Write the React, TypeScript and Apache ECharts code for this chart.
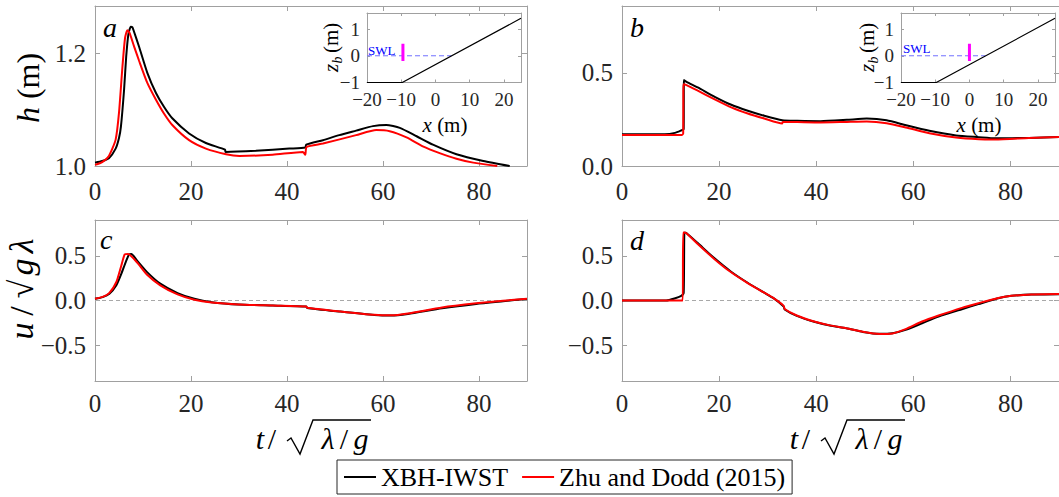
import React, { useEffect, useRef } from "react";
import * as echarts from "echarts";

const SERIF = "Liberation Serif";
const AXIS_GRAY = "#a0a0a0";
const TEXT_DARK = "#262626";

const SERIES_NAMES = ["XBH-IWST", "Zhu and Dodd (2015)"];
const SERIES_COLORS = ["#000000", "#ff0000"];

// tick positions
const tickT = [0, 20, 40, 60, 80];
const tickH = [1.0, 1.2];
const tickHb = [0, 0.5];
const tickU = [-0.5, 0, 0.5];
const tickInsetX = [-20, -10, 0, 10, 20];
const tickInsetZ = [-1, 0, 1];

// (a) depth h (m), offshore gauge
const aXbhT = [0, 1.5, 2.9, 4.3, 5.0, 5.4, 6.05, 6.5, 6.96, 7.45, 7.8, 8.1, 9.2, 10.9, 12.7, 14.4, 16.1, 19.6, 23.1, 27.1, 27.2, 33.5, 40.5, 43.8, 44.0, 47.5, 50.9, 54.4, 57.9, 60.7, 63.5, 67, 70.4, 75.3, 80.9, 86.4];
const aXbhH = [1.006, 1.009, 1.014, 1.031, 1.05, 1.07, 1.135, 1.195, 1.235, 1.248, 1.247, 1.24, 1.212, 1.166, 1.13, 1.105, 1.085, 1.058, 1.041, 1.029, 1.025, 1.027, 1.031, 1.033, 1.038, 1.046, 1.055, 1.063, 1.071, 1.073, 1.068, 1.053, 1.038, 1.021, 1.009, 1.0];
const aZdT = [0, 1.5, 2.9, 4.3, 5.0, 5.7, 6.26, 6.75, 7.2, 8.1, 9.2, 10.9, 12.7, 14.4, 16.1, 19.6, 23.1, 27.3, 30.1, 37, 43.3, 43.8, 44.1, 47.5, 54.4, 58.6, 61.4, 64.9, 68.3, 71.8, 75.3, 78.8, 83.8];
const aZdH = [1.002, 1.007, 1.018, 1.047, 1.095, 1.175, 1.228, 1.242, 1.237, 1.214, 1.187, 1.148, 1.118, 1.093, 1.073, 1.046, 1.031, 1.021, 1.018, 1.02, 1.025, 1.02, 1.034, 1.04, 1.055, 1.064, 1.062, 1.051, 1.035, 1.023, 1.013, 1.006, 1.0];

// (b) depth h (m), gauge on the slope
const bXbhT = [0, 8.8, 10.9, 12.25, 12.7, 12.75, 13.3, 15.6, 19.1, 22.5, 25.9, 29.3, 33.0, 36.1, 40.9, 46.3, 50.4, 54.5, 58.5, 63.3, 68.8, 73.5, 76.9, 83.8, 90];
const bXbhH = [0.171, 0.171, 0.178, 0.192, 0.198, 0.462, 0.452, 0.422, 0.372, 0.329, 0.297, 0.27, 0.246, 0.243, 0.241, 0.248, 0.255, 0.246, 0.219, 0.189, 0.164, 0.155, 0.149, 0.151, 0.156];
const bZdT = [0, 12.3, 12.6, 12.65, 13.3, 15.6, 19.1, 22.5, 25.9, 29.3, 33.0, 33.1, 36.1, 40.9, 46.3, 50.4, 54.5, 58.5, 63.3, 68.8, 73.5, 76.9, 83.8, 90];
const bZdH = [0.167, 0.167, 0.175, 0.44, 0.435, 0.405, 0.358, 0.315, 0.282, 0.255, 0.228, 0.237, 0.236, 0.234, 0.237, 0.239, 0.23, 0.207, 0.176, 0.153, 0.144, 0.143, 0.151, 0.156];

// (c) velocity u / sqrt(g lambda), offshore gauge
const cXbhT = [0, 1.6, 3.0, 4.45, 5.5, 6.4, 7.1, 7.6, 8.7, 10.8, 13.6, 17.2, 20.7, 24.3, 29.9, 37, 44, 44.2, 51.1, 58.2, 61.7, 65.2, 72.3, 79.4, 85, 90];
const cXbhU = [0.02, 0.038, 0.075, 0.17, 0.3, 0.43, 0.515, 0.52, 0.45, 0.32, 0.188, 0.083, 0.019, -0.019, -0.045, -0.056, -0.068, -0.083, -0.124, -0.162, -0.169, -0.15, -0.087, -0.038, -0.008, 0.018];
const cZdT = [0, 1.6, 3.0, 4.45, 5.5, 6.2, 6.9, 8.7, 10.8, 13.6, 17.2, 20.7, 24.3, 29.9, 37, 44, 44.2, 51.1, 58.2, 61.7, 65.2, 72.3, 79.4, 85, 90];
const cZdU = [0.02, 0.04, 0.085, 0.207, 0.395, 0.515, 0.52, 0.43, 0.29, 0.17, 0.068, 0.008, -0.023, -0.045, -0.056, -0.066, -0.08, -0.122, -0.16, -0.166, -0.145, -0.078, -0.032, -0.003, 0.02];

// (d) velocity u / sqrt(g lambda), gauge on the slope
const dXbhT = [0, 9.1, 10.8, 12.2, 12.7, 12.86, 13.2, 15.6, 19, 22.4, 25.8, 29.2, 31.2, 33.3, 33.5, 36, 39.4, 42.8, 46.2, 49.6, 53, 55.7, 58.4, 61.8, 65.2, 70, 73.4, 77.5, 80.2, 84.3, 90];
const dXbhU = [0, 0, 0.022, 0.052, 0.082, 0.761, 0.758, 0.642, 0.474, 0.325, 0.201, 0.09, 0.026, -0.067, -0.1, -0.172, -0.235, -0.28, -0.31, -0.351, -0.373, -0.366, -0.328, -0.254, -0.179, -0.097, -0.041, 0.026, 0.052, 0.067, 0.071];
const dZdT = [0, 12.5, 12.6, 13.2, 15.6, 19, 22.4, 25.8, 29.2, 31.2, 33.3, 33.5, 36, 39.4, 42.8, 46.2, 49.6, 53, 55.7, 58.4, 61.8, 65.2, 70, 73.4, 77.5, 80.2, 84.3, 90];
const dZdU = [0, 0, 0.761, 0.755, 0.632, 0.465, 0.318, 0.198, 0.09, 0.026, -0.06, -0.095, -0.168, -0.232, -0.278, -0.31, -0.35, -0.375, -0.368, -0.32, -0.235, -0.168, -0.082, -0.03, 0.028, 0.052, 0.067, 0.072];

// zero reference for the velocity panels
const zeroT = [0, 90];
const zeroU = [0, 0];

// beach profile used in the insets
const bedX = [-20, -9.7, 25];
const bedZ = [-1, -1, 1.4];
const swlX = [-20, 4.7];
const swlZ = [0, 0];
const gaugeZ = [-0.2, 0.45];
const gaugeXa = [-9.5, -9.5];
const gaugeXb = [0, 0];

const zip = (xs: number[], ys: number[]) => xs.map((x, i) => [x, ys[i]]);
const fmt1 = (v: number) => (Math.abs(v) < 1e-9 ? "0.0" : v.toFixed(1)).replace("-", "\u2212");
const fmt0 = (v: number) => String(Math.round(v)).replace("-", "\u2212");

type Panel = {
  left: number; top: number; width: number; height: number;
  xMin: number; xMax: number; yMin: number; yMax: number;
  xTicks: number[]; yTicks: number[];
  xFmt: (v: number) => string; yFmt: (v: number) => string;
  fontSize: number; tickLen: number; xMargin: number; yMargin: number; inset?: boolean;
};

const mainPanel = (left: number, top: number, width: number, height: number, yMin: number, yMax: number, yTicks: number[], xMargin: number): Panel => ({
  left, top, width, height, xMin: 0, xMax: 90, yMin, yMax, xTicks: tickT, yTicks,
  xFmt: fmt0, yFmt: fmt1, fontSize: 25, tickLen: 5, xMargin, yMargin: 9,
});
const insetPanel = (left: number): Panel => ({
  left, top: 13, width: 154, height: 69.5, xMin: -20, xMax: 25, yMin: -1, yMax: 1.6,
  xTicks: tickInsetX, yTicks: tickInsetZ, xFmt: fmt0, yFmt: fmt0,
  fontSize: 19, tickLen: 3, xMargin: 7, yMargin: 7, inset: true,
});

const panels: Panel[] = [
  mainPanel(95, 6, 432, 160, 1.0, 1.285, tickH, 13),
  mainPanel(622, 6, 441, 160, 0, 0.86, tickHb, 13),
  mainPanel(95, 220, 432, 161, -0.9, 0.9, tickU, 10),
  mainPanel(622, 220, 441, 161, -0.9, 0.9, tickU, 10),
  insetPanel(367),
  insetPanel(901),
];

function buildOption() {
  const grid: any[] = [];
  const xAxis: any[] = [];
  const yAxis: any[] = [];
  panels.forEach((p, i) => {
    grid.push({
      left: p.left, top: p.top, width: p.width, height: p.height,
      show: !!p.inset, backgroundColor: "#ffffff", borderWidth: 0,
    });
    const line = { show: true, onZero: false, lineStyle: { color: AXIS_GRAY, width: 1 } };
    const tick = (vals: number[]) => ({
      show: true, inside: true, length: p.tickLen, customValues: vals,
      lineStyle: { color: AXIS_GRAY, width: 1 },
    });
    const label = (vals: number[], fmt: (v: number) => string, margin: number) => ({
      show: true, customValues: vals, formatter: fmt, margin,
      fontFamily: SERIF, fontSize: p.fontSize, color: TEXT_DARK,
    });
    const xBase = { type: "value", gridIndex: i, min: p.xMin, max: p.xMax, splitLine: { show: false }, axisLine: line, axisTick: tick(p.xTicks) };
    const yBase = { type: "value", gridIndex: i, min: p.yMin, max: p.yMax, splitLine: { show: false }, axisLine: line, axisTick: tick(p.yTicks) };
    xAxis.push({ ...xBase, position: "bottom", axisLabel: label(p.xTicks, p.xFmt, p.xMargin) });
    xAxis.push({ ...xBase, position: "top", axisLabel: { show: false } });
    yAxis.push({ ...yBase, position: "left", axisLabel: label(p.yTicks, p.yFmt, p.yMargin) });
    yAxis.push({ ...yBase, position: "right", axisLabel: { show: false } });
  });

  const curve = (panel: number, which: number, data: number[][]) => ({
    type: "line", name: SERIES_NAMES[which], xAxisIndex: 2 * panel, yAxisIndex: 2 * panel,
    data, symbol: "none", smooth: 0.2, silent: true,
    lineStyle: { color: SERIES_COLORS[which], width: 2 }, itemStyle: { color: SERIES_COLORS[which] },
    z: 3 + which,
  });
  const plain = (panel: number, data: number[][], color: string, width: number, type: any = "solid") => ({
    type: "line", xAxisIndex: 2 * panel, yAxisIndex: 2 * panel, data, symbol: "none", silent: true,
    lineStyle: { color, width, type }, z: 2,
  });

  const series: any[] = [
    plain(2, zip(zeroT, zeroU), "#a8a8a8", 1, [4, 3]),
    plain(3, zip(zeroT, zeroU), "#a8a8a8", 1, [4, 3]),
    curve(0, 0, zip(aXbhT, aXbhH)),
    curve(0, 1, zip(aZdT, aZdH)),
    curve(1, 0, zip(bXbhT, bXbhH)),
    curve(1, 1, zip(bZdT, bZdH)),
    curve(2, 0, zip(cXbhT, cXbhU)),
    curve(2, 1, zip(cZdT, cZdU)),
    curve(3, 0, zip(dXbhT, dXbhU)),
    curve(3, 1, zip(dZdT, dZdU)),
    plain(4, zip(swlX, swlZ), "#7070ff", 1, [5, 3]),
    plain(4, zip(bedX, bedZ), "#000000", 1.2),
    plain(4, zip(gaugeXa, gaugeZ), "#ff00ff", 3),
    plain(5, zip(swlX, swlZ), "#7070ff", 1, [5, 3]),
    plain(5, zip(bedX, bedZ), "#000000", 1.2),
    plain(5, zip(gaugeXb, gaugeZ), "#ff00ff", 3),
  ];

  const text = (x: number, y: number, s: string, size: number, opts: any = {}) => ({
    type: "text", x, y, rotation: opts.rotation || 0, silent: true, z: 50,
    style: {
      text: s, fontFamily: SERIF, fontSize: size, fontStyle: opts.italic ? "italic" : "normal",
      fill: opts.color || "#000", align: opts.align || "center", verticalAlign: opts.valign || "middle",
      textAlign: opts.align || "center", textVerticalAlign: opts.valign || "middle",
      rich: opts.rich,
    },
  });
  const up = Math.PI / 2;
  const italicRich = (size: number) => ({ i: { fontStyle: "italic", fontFamily: SERIF, fontSize: size } });

  // t / sqrt(lambda / g) axis title, drawn glyph by glyph
  const timeTitle = (dx: number) => [
    text(260 + dx, 438, "t", 30, { italic: true }),
    text(272 + dx, 438, "/", 30),
    {
      type: "polyline", silent: true, z: 50,
      shape: { points: [[287 + dx, 441], [291 + dx, 438], [300 + dx, 454], [313 + dx, 420], [371 + dx, 420]] },
      style: { stroke: "#000", lineWidth: 1.4, fill: "none" },
    },
    text(328 + dx, 438, "\u03bb", 30, { italic: true }),
    text(344 + dx, 438, "/", 30),
    text(361 + dx, 438, "g", 30, { italic: true }),
  ];

  // z_b (m) inset axis title, rotated
  const zbTitle = (cx: number) => ({
    type: "group", x: cx, y: 47, rotation: up, silent: true, z: 50,
    children: [
      text(-25, 0, "z", 21, { italic: true, align: "left" }),
      text(-16.5, 6, "b", 14, { italic: true, align: "left" }),
      text(-6, 0, "(m)", 21, { align: "left" }),
    ],
  });

  const graphic: any[] = [
    text(103, 27.5, "a", 28, { italic: true, align: "left" }),
    text(630, 27.5, "b", 28, { italic: true, align: "left" }),
    text(100, 239.5, "c", 28, { italic: true, align: "left" }),
    text(630, 240.5, "d", 28, { italic: true, align: "left" }),
    text(28, 88, "{i|h} (m)", 32, { rotation: up, rich: italicRich(32) }),
    text(21.5, 331, "u", 34, { italic: true, rotation: up }),
    text(21.5, 311, "/", 34, { rotation: up }),
    text(21.5, 289, "\u221a", 34, { rotation: up }),
    text(21.5, 267, "g", 34, { italic: true, rotation: up }),
    text(21.5, 246, "\u03bb", 34, { italic: true, rotation: up }),
    ...timeTitle(0),
    ...timeTitle(534),
    text(368, 50, "SWL", 13, { color: "#0000ff", align: "left" }),
    text(903, 48, "SWL", 13, { color: "#0000ff", align: "left" }),
    text(445, 125, "{i|x} (m)", 21, { rich: italicRich(21) }),
    text(979, 125, "{i|x} (m)", 21, { rich: italicRich(21) }),
    zbTitle(331),
    zbTitle(867),
  ];

  return {
    animation: false,
    backgroundColor: "#ffffff",
    textStyle: { fontFamily: SERIF },
    grid, xAxis, yAxis, series, graphic,
    legend: {
      data: SERIES_NAMES, left: 337, top: 460, orient: "horizontal",
      padding: [4, 7], itemGap: 14, itemWidth: 32, itemHeight: 2, icon: "rect",
      borderColor: "#262626", borderWidth: 1, backgroundColor: "#ffffff",
      selectedMode: false,
      textStyle: { fontFamily: SERIF, fontSize: 26, color: "#000" },
    },
  };
}

export default function App() {
  const ref = useRef<HTMLDivElement>(null);
  useEffect(() => {
    if (!ref.current) return;
    const chart = echarts.init(ref.current, undefined, { renderer: "svg" });
    chart.setOption(buildOption() as any);
    return () => chart.dispose();
  }, []);
  return (
    <div
      ref={ref}
      style={{ position: "fixed", left: 0, top: 0, width: 1059, height: 497, background: "#ffffff" }}
    />
  );
}
